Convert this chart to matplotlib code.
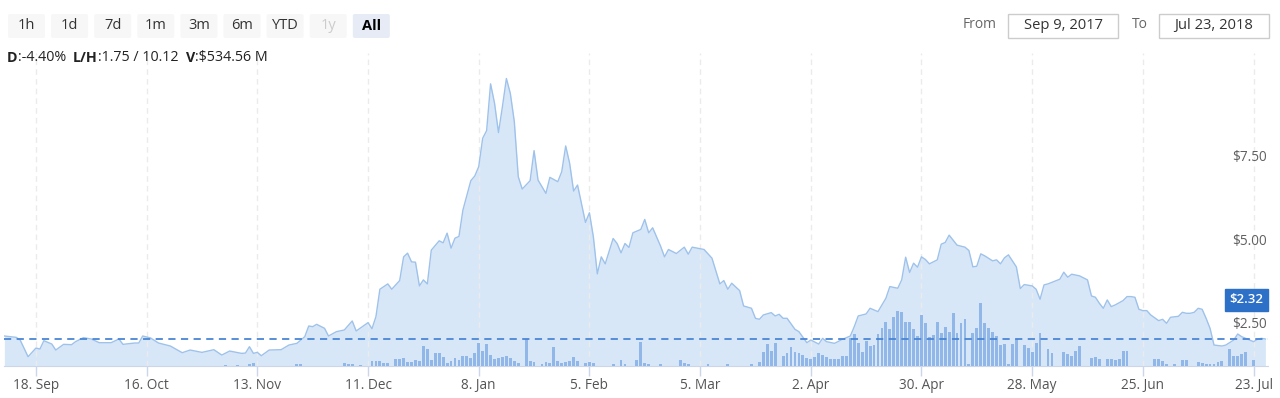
import pandas as pd
import matplotlib
matplotlib.use("Agg")
import matplotlib.pyplot as plt
from matplotlib.patches import FancyBboxPatch, Rectangle
from matplotlib.transforms import blended_transform_factory, IdentityTransform

plt.rcParams['font.family'] = ['Open Sans', 'DejaVu Sans']

# data
start = pd.Timestamp('2017-09-09')

# price: day offset from start, USD
price_day = [1, 4, 5, 7, 9, 10, 11, 13, 14, 16, 18, 19, 21, 23, 25, 28, 30, 31, 34, 35,
             36, 38, 40, 43, 46, 48, 51, 54, 56, 58, 61, 62, 63, 64, 65, 66, 68, 71, 73, 75,
             77, 78, 79, 80, 82, 83, 85, 87, 89, 90, 93, 94, 95, 96, 98, 99, 101, 102, 103, 104,
             105, 106, 107, 108, 109, 111, 112, 113, 114, 115, 116, 117, 119, 120, 121, 122, 123, 124, 125, 126,
             127, 128, 129, 130, 131, 132, 134, 135, 136, 138, 139, 141, 142, 143, 144, 145, 146, 148, 149, 150,
             151, 152, 153, 155, 156, 157, 158, 159, 160, 162, 163, 164, 165, 167, 168, 169, 171, 173, 174, 175,
             178, 180, 182, 183, 184, 185, 187, 188, 190, 191, 192, 193, 195, 196, 197, 198, 199, 201, 202, 204,
             205, 207, 208, 209, 211, 213, 215, 216, 217, 219, 220, 222, 224, 225, 227, 228, 229, 230, 231, 232,
             233, 234, 235, 237, 238, 239, 240, 242, 244, 245, 246, 247, 248, 249, 251, 252, 253, 254, 255, 257,
             258, 259, 261, 262, 263, 264, 265, 268, 269, 270, 271, 273, 275, 276, 277, 278, 279, 280, 281, 282,
             284, 285, 286, 287, 288, 289, 290, 291, 293, 294, 295, 296, 298, 299, 300, 301, 302, 303, 304, 305,
             306, 307, 309, 310, 312, 313, 314, 316, 317, 318, 319, 320]
price_usd = [2.41, 2.37, 2.29, 1.79, 2.05, 2.02, 2.27, 2.17, 1.99, 2.16, 2.15, 2.24, 2.36, 2.32, 2.21, 2.21, 2.32, 2.16, 2.20, 2.20,
             2.41, 2.35, 2.20, 2.11, 1.91, 1.99, 1.92, 2.00, 1.84, 1.96, 1.89, 1.90, 2.09, 1.89, 1.92, 1.82, 1.99, 2.00, 2.14, 2.19,
             2.39, 2.71, 2.69, 2.76, 2.64, 2.41, 2.54, 2.59, 2.86, 2.56, 2.81, 2.63, 2.99, 3.81, 3.97, 3.81, 4.07, 4.78, 4.89, 4.63,
             4.62, 3.91, 4.09, 3.97, 4.98, 5.26, 5.20, 5.49, 5.04, 5.34, 5.39, 6.18, 7.06, 7.20, 7.48, 8.33, 8.56, 9.96, 9.38, 8.50,
             9.28, 10.12, 9.67, 8.83, 7.18, 6.81, 7.06, 7.96, 7.08, 6.68, 7.16, 7.03, 7.33, 8.10, 7.58, 6.75, 6.93, 5.81, 6.10, 5.38,
             4.27, 4.78, 4.57, 5.33, 5.18, 4.90, 5.18, 5.06, 5.50, 5.60, 5.90, 5.50, 5.65, 5.10, 4.78, 5.00, 4.88, 5.07, 4.86, 5.07,
             5.00, 4.74, 3.97, 4.07, 3.81, 3.99, 3.77, 3.31, 3.24, 2.94, 2.91, 3.04, 3.11, 3.01, 3.06, 2.94, 2.94, 2.61, 2.54, 2.21,
             2.29, 2.17, 2.34, 2.24, 2.19, 2.31, 2.41, 2.69, 3.01, 3.07, 3.24, 3.14, 3.54, 3.89, 3.84, 4.09, 4.77, 4.31, 4.59, 4.47,
             4.78, 4.70, 4.57, 4.69, 5.16, 5.21, 5.43, 5.13, 5.07, 4.97, 4.48, 4.50, 4.87, 4.81, 4.66, 4.69, 4.57, 4.75, 4.84, 4.48,
             3.83, 3.95, 3.91, 3.81, 3.51, 3.94, 3.97, 4.11, 4.32, 4.17, 4.26, 4.21, 4.09, 3.61, 3.57, 3.39, 3.24, 3.49, 3.29, 3.34,
             3.47, 3.59, 3.59, 3.57, 3.21, 3.17, 3.17, 3.04, 2.87, 2.91, 2.79, 2.97, 3.00, 3.12, 3.09, 3.09, 3.12, 3.24, 3.21, 2.94,
             2.64, 2.14, 2.11, 2.14, 2.29, 2.47, 2.39, 2.29, 2.24, 2.31, 2.34, 2.32]

# volume: day offset from start, million USD
vol_day = [57, 60, 63, 64, 75, 76, 87, 88, 89, 91,
           94, 95, 96, 97, 98, 100, 101, 102, 103, 104, 105, 106, 107, 108, 109, 110, 111, 112, 113, 114,
           115, 116, 117, 118, 119, 120, 121, 122, 123, 124, 125, 126, 127, 128, 129, 130, 131, 133, 134, 135,
           137, 138, 139, 140, 141, 142, 143, 144, 145, 146, 148, 149, 150, 155, 157, 158, 161, 162, 163, 164,
           167, 172, 173, 174, 179, 184, 190, 192, 193, 194, 195, 196, 198, 199, 200, 201, 202, 203, 204, 205,
           206, 207, 208, 209, 210, 211, 212, 213, 214, 215, 216, 217, 218, 219, 220, 221, 222, 223, 224, 225,
           226, 227, 228, 229, 230, 231, 232, 233, 234, 235, 236, 237, 238, 239, 240, 241, 242, 243, 244, 245,
           246, 247, 248, 249, 250, 251, 252, 253, 254, 255, 256, 257, 259, 260, 261, 262, 263, 265, 266, 269,
           270, 271, 272, 273, 276, 277, 278, 280, 281, 282, 283, 284, 285, 292, 293, 294, 295, 297, 299, 300,
           303, 304, 305, 306, 307, 308, 309, 311, 312, 313, 314, 315, 317]
vol_musd = [20, 20, 40, 60, 40, 40, 60, 40, 40, 20,
            100, 100, 100, 60, 60, 140, 140, 160, 80, 80, 120, 100, 400, 340, 120, 260, 260, 180, 60, 100,
            160, 120, 200, 200, 160, 260, 460, 300, 440, 220, 140, 160, 180, 200, 160, 100, 60, 540, 100, 80,
            40, 80, 60, 380, 100, 60, 80, 100, 180, 100, 60, 80, 60, 40, 120, 40, 120, 480, 60, 40,
            40, 120, 60, 40, 40, 40, 40, 80, 280, 440, 300, 460, 200, 260, 380, 280, 260, 220, 160, 140,
            180, 260, 220, 180, 140, 140, 140, 200, 200, 560, 640, 460, 280, 500, 400, 420, 640, 760, 880, 740,
            980, 1100, 1080, 880, 880, 740, 600, 1020, 860, 580, 620, 880, 660, 780, 680, 1060, 660, 860, 940, 40,
            660, 760, 1260, 860, 760, 680, 600, 420, 440, 40, 440, 540, 420, 360, 280, 460, 660, 340, 260, 280,
            240, 200, 300, 400, 160, 180, 140, 140, 140, 120, 140, 300, 300, 140, 140, 100, 40, 40, 120, 120,
            80, 60, 40, 40, 40, 80, 100, 340, 200, 200, 240, 280, 120]

current_price = 2.32
price_ticks = [2.5, 5.0, 7.5]
date_ticks = ['2017-09-18', '2017-10-16', '2017-11-13', '2017-12-11', '2018-01-08', '2018-02-05',
              '2018-03-05', '2018-04-02', '2018-04-30', '2018-05-28', '2018-06-25', '2018-07-23']
buttons = ['1h', '1d', '7d', '1m', '3m', '6m', 'YTD', '1y', 'All']
date_from = 'Sep 9, 2017'
date_to = 'Jul 23, 2018'
info = [('D', 'bold'), (':-4.40%  ', 'normal'), ('L/H', 'bold'), (':1.75 / 10.12  ', 'normal'),
        ('V', 'bold'), (':$534.56 M', 'normal')]

W, H = 1280, 398
fig = plt.figure(figsize=(W / 100, H / 100), dpi=100)


def fx(px):
    return px / W


def fy(py):
    return 1 - py / H


# price axes
ax_l, ax_r, ax_t, ax_b = 4.35, 1268, 53, 366
ax = fig.add_axes([fx(ax_l), fy(ax_b), (ax_r - ax_l) / W, (ax_b - ax_t) / H])
y_lo, y_hi = 1.512, 10.883

price_dates = start + pd.to_timedelta(price_day, unit='D')
ax.fill_between(price_dates, price_usd, y_lo, color='#d8e7f8', lw=0)
ax.plot(price_dates, price_usd, color='#9ec2ea', lw=1.0)
ax.set_ylim(y_lo, y_hi)
ax.set_xlim(start + pd.Timedelta(days=1), start + pd.Timedelta(days=320.66))

tick_dates = pd.to_datetime(date_ticks)
ax.set_xticks(tick_dates)
ax.set_xticklabels([f'{d.day}. {d.strftime("%b")}' for d in tick_dates])
ax.tick_params(axis='x', length=7, color='#ccd6eb', width=1, pad=1.5,
               labelsize=9.8, labelcolor='#555555')
ax.set_yticks([])
ax.grid(axis='x', color='#ebebeb', ls=(0, (4, 3)), lw=1)
for s in ['left', 'right', 'top']:
    ax.spines[s].set_visible(False)
ax.spines['bottom'].set_color('#ccd6eb')

# volume axes
ax_vol = ax.twinx()
vol_dates = start + pd.to_timedelta(vol_day, unit='D')
ax_vol.bar(vol_dates, vol_musd, width=0.72, color='#90b7e8', lw=0)
ax_vol.set_ylim(0, (ax_b - ax_t) * 20)
ax_vol.set_yticks([])
for s in ax_vol.spines.values():
    s.set_visible(False)

# current price line and label
trans = blended_transform_factory(ax_vol.transAxes, ax.transData)
ax_vol.plot([0, 1], [current_price, current_price], transform=trans, color='#4a86d6',
            lw=1.3, ls=(0, (4, 3)))
ax_vol.annotate(f'${current_price:.2f}', xy=(1, current_price), xycoords=trans,
                xytext=(-3.2, 28.1), textcoords='offset points', ha='right', va='center',
                color='white', fontsize=9.5, fontweight='semibold',
                bbox=dict(boxstyle='square,pad=0.34', fc='#2d70c8', ec='#2d70c8'))
for v in price_ticks:
    ax_vol.annotate(f'${v:.2f}', xy=(1, v), xycoords=trans, xytext=(-0.6, 5.8),
                    textcoords='offset points', ha='right', va='center',
                    color='#606060', fontsize=9.8)

# range buttons
for i, b in enumerate(buttons):
    x0 = 8 + i * 43.1
    fc = '#e6ebf5' if b == 'All' else '#f7f7f7'
    fig.add_artist(FancyBboxPatch((x0, H - 38), 37, 24, boxstyle='round,pad=0,rounding_size=2',
                                  transform=IdentityTransform(), fc=fc, ec='none'))
    col = '#cccccc' if b == '1y' else ('#000000' if b == 'All' else '#333333')
    fig.text(fx(x0 + 18.5), fy(25.5), b, ha='center', va='center', fontsize=10.5, color=col,
             fontweight='bold' if b == 'All' else 'normal')

# date inputs
fig.text(fx(963), fy(25), 'From', ha='left', va='center', fontsize=10, color='#666666')
fig.text(fx(1132), fy(25), 'To', ha='left', va='center', fontsize=10, color='#666666')
for x0, x1, txt in [(1008, 1118, date_from), (1159, 1269, date_to)]:
    fig.add_artist(Rectangle((x0, H - 38), x1 - x0, 24, transform=IdentityTransform(),
                             fc='white', ec='#cccccc', lw=1))
    fig.text(fx((x0 + x1) / 2), fy(25.5), txt, ha='center', va='center', fontsize=10.6,
             color='#333333')

# info line
renderer = fig.canvas.get_renderer()
x = 7
for txt, w in info:
    t = fig.text(fx(x), fy(57.5), txt, ha='left', va='center', fontsize=10.3, color='#222222',
                 fontweight=w)
    x = t.get_window_extent(renderer).x1

fig.savefig('out.png', dpi=100)
